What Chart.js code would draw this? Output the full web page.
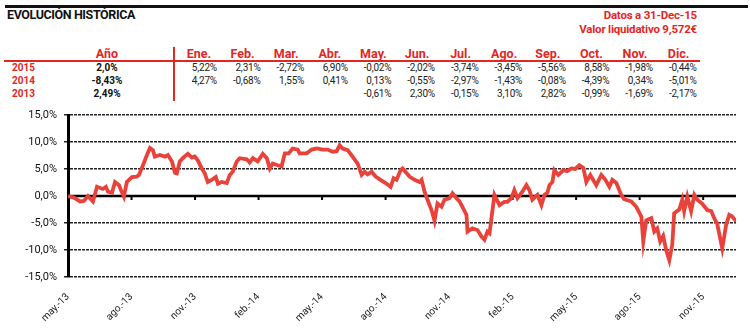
<!DOCTYPE html>
<html lang="es">
<head>
  <meta charset="UTF-8" />
  <title>Evolución histórica</title>
  <script src="https://cdn.jsdelivr.net/npm/chart.js"></script>
  <style>
    body {
      margin: 0;
      background: #fff;
      font-family: 'Roboto', sans-serif;
    }
    .page {
      position: relative;
      width: 750px;
      height: 328px;
      overflow: hidden;
    }
    .abs { position: absolute; white-space: nowrap; line-height: 1; }
    .rule-top { left: 5px; top: 5px; width: 743px; height: 3px; background: #111; }
    .title { left: 7px; top: 9px; font-size: 12.5px; font-weight: 700; color: #111; letter-spacing: -0.4px; }
    .info { right: 53px; font-size: 11.5px; font-weight: 700; color: #e3261f; text-align: right; letter-spacing: -0.2px; }
    .head { font-size: 12.5px; font-weight: 700; color: #e3261f; text-align: center; width: 50px; }
    .rule-red { left: 4px; top: 60px; width: 696px; height: 2px; background: #e3261f; }
    .rule-vert { left: 173px; top: 47px; width: 2px; height: 54px; background: #e3261f; }
    .year { left: 12px; font-size: 10px; font-weight: 700; color: #e3261f; }
    .total { width: 60px; left: 77px; text-align: center; font-size: 10px; font-weight: 700; color: #111; }
    .cell { width: 50px; text-align: right; font-size: 10px; color: #222; letter-spacing: -0.2px; }
    .chart-box { position: absolute; left: 0; top: 100px; width: 750px; height: 228px; }
  </style>
</head>
<body>
  <div class="page" id="page">
    <div class="abs rule-top"></div>
    <div class="abs title">EVOLUCIÓN HISTÓRICA</div>
    <div class="abs info" style="top:10px">Datos a 31-Dec-15</div>
    <div class="abs info" style="top:24px">Valor liquidativo 9,572€</div>
    <div class="abs rule-red"></div>
    <div class="abs rule-vert"></div>
    <div class="chart-box"><canvas id="chartHist"></canvas></div>
  </div>

  <script>
    // tabla de rentabilidades mensuales
    const monthNames = ['Ene.', 'Feb.', 'Mar.', 'Abr.', 'May.', 'Jun.', 'Jul.', 'Ago.', 'Sep.', 'Oct.', 'Nov.', 'Dic.'];
    const yearLabels = ['2015', '2014', '2013'];
    const yearTotals = ['2,0%', '-8,43%', '2,49%'];
    const ret2015 = ['5,22%', '2,31%', '-2,72%', '6,90%', '-0,02%', '-2,02%', '-3,74%', '-3,45%', '-5,56%', '8,58%', '-1,98%', '-0,44%'];
    const ret2014 = ['4,27%', '-0,68%', '1,55%', '0,41%', '0,13%', '-0,55%', '-2,97%', '-1,43%', '-0,08%', '-4,39%', '0,34%', '-5,01%'];
    const ret2013 = ['', '', '', '', '-0,61%', '2,30%', '-0,15%', '3,10%', '2,82%', '-0,99%', '-1,69%', '-2,17%'];

    // evolución del valor (meses desde may-13, rentabilidad acumulada %)
    const histMonths = [
      0, 0.28, 0.57, 0.75, 0.94, 1.18, 1.37, 1.65, 1.79, 1.89, 2.08, 2.22, 2.41, 2.50, 2.64, 2.78,
      3.02, 3.25, 3.35, 3.54, 3.73, 3.87, 4.01, 4.10, 4.34, 4.58, 4.72, 4.91, 5.05, 5.14, 5.28, 5.42,
      5.66, 5.85, 5.99, 6.13, 6.32, 6.46, 6.60, 6.79, 6.98, 7.08, 7.26, 7.50, 7.64, 7.78, 7.97, 8.11,
      8.44, 8.58, 8.73, 8.96, 9.20, 9.39, 9.53, 9.67, 9.91, 10.09, 10.24, 10.42, 10.61, 10.85, 10.94, 11.27,
      11.51, 11.75, 12.03, 12.26, 12.50, 12.69, 12.83, 12.97, 13.21, 13.44, 13.68, 13.87, 14.01, 14.15, 14.34, 14.53,
      14.76, 15.00, 15.24, 15.38, 15.52, 15.71, 15.80, 16.13, 16.37, 16.60, 16.70, 16.84, 16.98, 17.17, 17.31, 17.45,
      17.64, 17.78, 18.02, 18.16, 18.35, 18.49, 18.63, 18.82, 18.87, 19.10, 19.34, 19.53, 19.67, 19.81, 19.91, 20.00,
      20.14, 20.38, 20.61, 20.75, 20.94, 21.08, 21.23, 21.46, 21.65, 21.79, 21.93, 22.17, 22.36, 22.50, 22.64, 22.74,
      22.88, 22.97, 23.16, 23.40, 23.58, 23.77, 23.96, 24.15, 24.34, 24.48, 24.67, 24.95, 25.19, 25.38, 25.57, 25.71,
      25.90, 26.13, 26.27, 26.60, 26.84, 27.08, 27.17, 27.31, 27.55, 27.69, 27.83, 27.97, 28.11, 28.25, 28.40, 28.54,
      28.63, 28.87, 29.01, 29.10, 29.25, 29.43, 29.58, 29.72, 29.95, 30.19, 30.38, 30.52, 30.66, 30.90, 31.08, 31.23,
      31.37, 31.56
    ];
    const histReturn = [
      0.0, -0.3, -1.0, -0.9, 0.0, -1.0, 1.7, 1.3, 1.7, 0.8, 0.6, 2.6, 2.0, 1.1, -0.1, 2.6,
      3.5, 3.6, 3.9, 5.7, 7.6, 8.9, 8.5, 7.3, 7.6, 7.3, 7.6, 6.4, 4.3, 4.2, 6.4, 7.0,
      7.8, 7.1, 7.3, 6.6, 5.1, 4.2, 2.6, 3.0, 3.5, 2.3, 2.6, 2.4, 3.9, 4.5, 6.4, 7.0,
      6.8, 6.2, 7.0, 6.4, 7.8, 7.0, 5.1, 6.0, 5.7, 5.5, 7.9, 7.9, 8.8, 8.6, 7.9, 7.9,
      8.6, 8.8, 8.6, 8.6, 8.2, 8.3, 9.4, 8.8, 8.5, 7.3, 6.0, 3.9, 4.5, 4.0, 4.5, 3.6,
      3.0, 2.4, 1.7, 3.3, 3.0, 4.8, 5.1, 3.6, 3.0, 2.6, 3.0, 0.8, -0.7, -2.6, -4.6, -1.4,
      -2.0, -0.7, -0.4, 0.5, -0.4, -1.0, -2.0, -3.5, -6.6, -6.0, -6.3, -7.5, -8.1, -6.6, -6.9, -4.1,
      0.2, -1.7, -1.1, -1.1, -0.4, 1.1, -0.4, 0.8, 2.0, 1.1, -0.7, 0.2, -1.7, 0.2, 0.6, 2.0,
      2.6, 4.8, 3.9, 4.8, 4.6, 5.1, 5.0, 5.7, 5.2, 2.6, 3.9, 2.0, 3.9, 3.0, 1.7, 3.0,
      2.4, 0.2, -0.6, -1.0, -2.0, -3.8, -8.4, -4.5, -4.1, -6.6, -6.0, -8.4, -7.4, -10.0, -11.9, -9.0,
      -3.2, -2.5, -0.7, -2.8, -0.1, -2.8, 0.2, -0.7, -1.4, -2.6, -2.8, -4.1, -5.1, -9.7, -5.4, -3.5,
      -3.8, -4.7
    ];
    const tickLabels = ['may.-13', 'ago.-13', 'nov.-13', 'feb.-14', 'may.-14', 'ago.-14', 'nov.-14', 'feb.-15', 'may.-15', 'ago.-15', 'nov.-15'];

    // --- tabla ---
    const page = document.getElementById('page');
    function addText(cls, text, left, top) {
      const d = document.createElement('div');
      d.className = 'abs ' + cls;
      d.textContent = text;
      if (left !== null) d.style.left = left + 'px';
      d.style.top = top + 'px';
      page.appendChild(d);
    }
    const colRight = i => 217 + i * 43.6;
    addText('head', 'Año', 82, 48);
    monthNames.forEach((m, i) => addText('head', m, colRight(i) - 18 - 25, 48));
    const rows = [ret2015, ret2014, ret2013];
    yearLabels.forEach((y, r) => {
      const top = 63 + r * 13;
      addText('year', y, 12, top);
      addText('total', yearTotals[r], null, top);
      rows[r].forEach((v, i) => addText('cell', v, colRight(i) - 50, top));
    });

    // línea del cero y marcas trimestrales sobre ella
    const zeroLine = {
      id: 'zeroLine',
      beforeDatasetsDraw(chart) {
        const { ctx, chartArea, scales } = chart;
        const y0 = scales.y.getPixelForValue(0);
        ctx.save();
        ctx.strokeStyle = '#000';
        ctx.lineWidth = 2.5;
        ctx.beginPath();
        ctx.moveTo(chartArea.left, y0);
        ctx.lineTo(chartArea.right, y0);
        ctx.stroke();
        ctx.lineWidth = 2;
        for (let i = 1; i < tickLabels.length; i++) {
          const x = scales.x.getPixelForValue(i * 3);
          ctx.beginPath();
          ctx.moveTo(x, y0);
          ctx.lineTo(x, y0 + 4);
          ctx.stroke();
        }
        ctx.restore();
      }
    };

    new Chart(document.getElementById('chartHist'), {
      type: 'line',
      data: {
        datasets: [{
          data: histMonths.map((m, i) => ({ x: m, y: histReturn[i] })),
          borderColor: '#e8423a',
          borderWidth: 3.8,
          pointRadius: 0,
          tension: 0,
          fill: false
        }]
      },
      options: {
        responsive: true,
        maintainAspectRatio: false,
        animation: false,
        layout: { padding: { top: 15, right: 14, left: 0, bottom: 0 } },
        plugins: { legend: { display: false }, tooltip: { enabled: false } },
        scales: {
          x: {
            type: 'linear',
            min: 0,
            max: 31.55,
            afterBuildTicks: s => { s.ticks = tickLabels.map((l, i) => ({ value: i * 3 })); },
            afterFit: s => { s.height = 51; },
            grid: { display: false },
            border: { display: false },
            ticks: {
              autoSkip: false,
              minRotation: 45,
              maxRotation: 45,
              padding: 6,
              color: '#222',
              font: { family: 'Roboto', size: 10 },
              callback: v => tickLabels[Math.round(v / 3)]
            }
          },
          y: {
            min: -15,
            max: 15,
            afterFit: s => { s.width = 68; },
            ticks: {
              stepSize: 5,
              padding: 7,
              color: '#111',
              font: { family: 'Roboto', size: 11 },
              callback: v => v.toFixed(1).replace('.', ',') + '%'
            },
            grid: {
              color: ctx => ctx.tick && ctx.tick.value === 0 ? 'rgba(0,0,0,0)' : '#222',
              lineWidth: 1.5,
              tickLength: 4
            },
            border: { display: true, color: '#000', width: 3, dash: [3, 1] }
          }
        }
      },
      plugins: [zeroLine]
    });
  </script>
</body>
</html>
